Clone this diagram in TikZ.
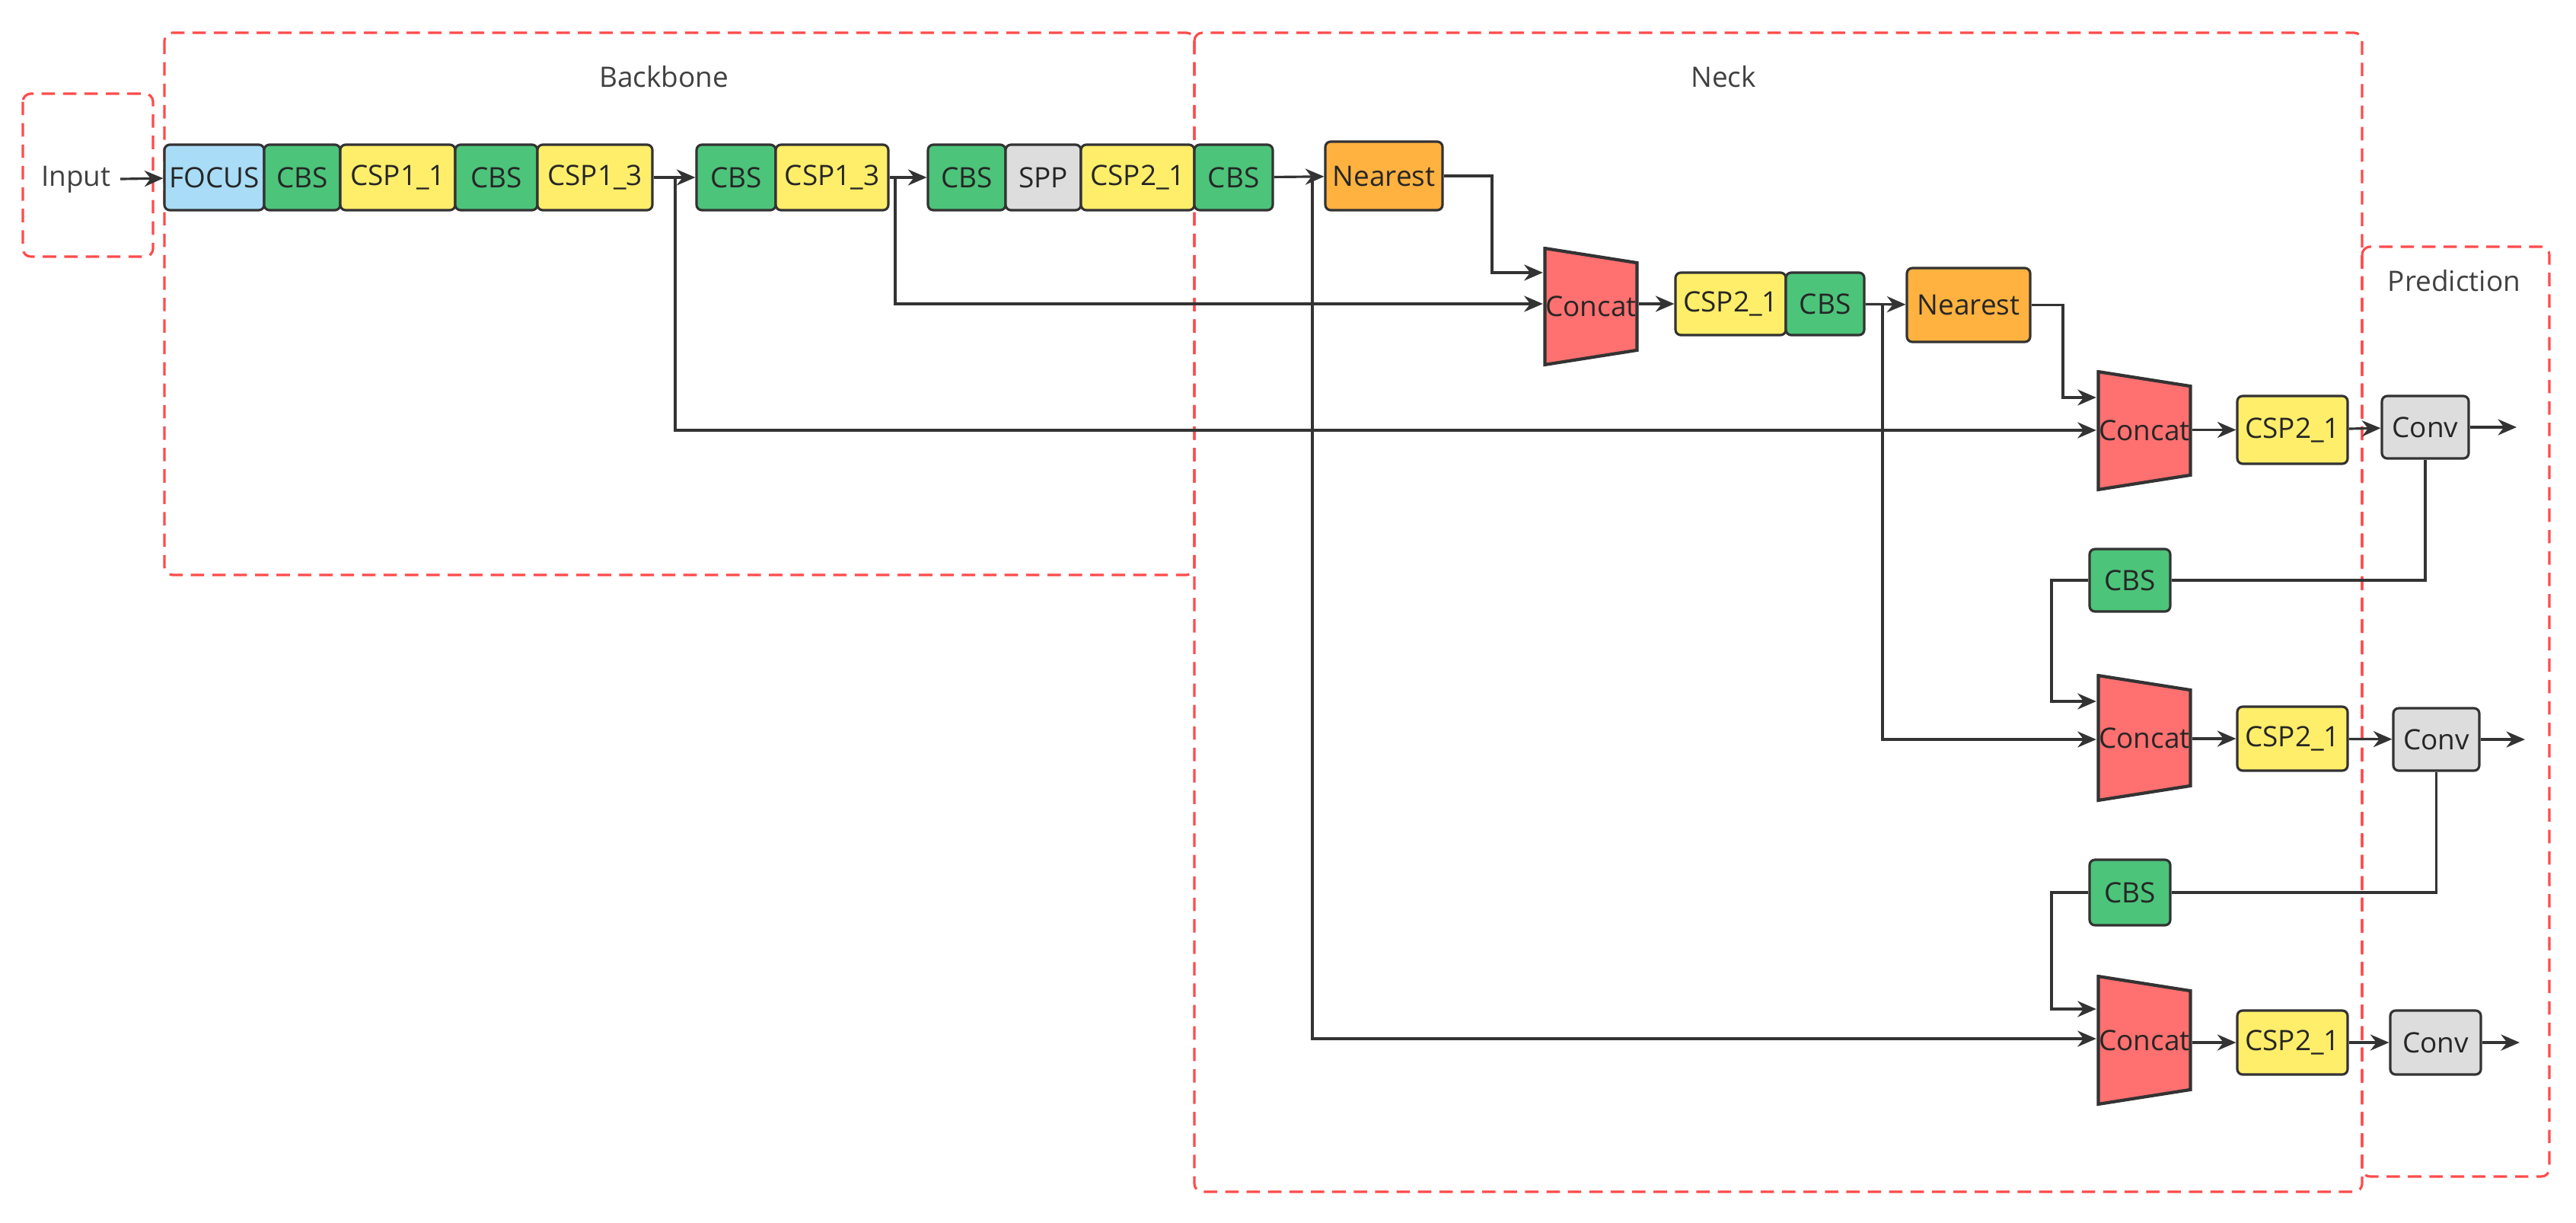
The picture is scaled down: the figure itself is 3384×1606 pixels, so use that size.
\documentclass[tikz,border=0pt]{standalone}
\usepackage{fontspec}
\setmainfont{Open Sans}
\usetikzlibrary{arrows.meta}
\definecolor{cblue}{HTML}{A9DCF6}
\definecolor{cgreen}{HTML}{4CC47A}
\definecolor{cyellow}{HTML}{FFEE6A}
\definecolor{cgrey}{HTML}{DDDDDD}
\definecolor{corange}{HTML}{FFB23F}
\definecolor{cred}{HTML}{FF7070}
\definecolor{cdash}{HTML}{FF4B4B}
\definecolor{cline}{HTML}{333333}
\tikzset{
 blk/.style={draw=cline,line width=0.9pt,rounded corners=2pt,inner sep=0pt,font=\fontsize{10.5}{12}\selectfont,text=black!85},
 group/.style={draw=cdash,dashed,line width=0.9pt,dash pattern=on 5pt off 3pt,rounded corners=3pt},
 lbl/.style={font=\fontsize{10.5}{12}\selectfont,text=black!75},
 con/.style={draw=cline,line width=0.9pt},
 arr/.style={con,-{Stealth[length=7pt,width=6pt]}},
 concat/.style={inner sep=0pt,font=\fontsize{10.5}{12}\selectfont,text=black!85,
  path picture={\filldraw[fill=cred,draw=cline,line width=1.2pt]
   ([xshift=0.6pt,yshift=-0.6pt]path picture bounding box.north west) --
   ([xshift=-0.6pt,yshift=-6pt]path picture bounding box.north east) --
   ([xshift=-0.6pt,yshift=6pt]path picture bounding box.south east) --
   ([xshift=0.6pt,yshift=0.6pt]path picture bounding box.south west) -- cycle;}},
}
\newcommand\bx[7]{\node[blk,fill=#6,minimum width={(#4-#2)*0.01cm},minimum height={(#5-#3)*0.01cm}] (#1) at ({(#2+#4)/2},{(#3+#5)/2}) {#7};}
\newcommand\cc[4]{\node[concat,minimum width={1.25cm},minimum height={(#4-#3)*0.01cm}] (#1) at (#2,{(#3+#4)/2}) {Concat};}
\begin{document}
\begin{tikzpicture}[x=0.01cm,y=-0.01cm]
\useasboundingbox (0,0) rectangle (3384,1606);
% groups
\draw[group] (30,123) rectangle (201,337);
\draw[group] (216,43) rectangle (1569,755);
\draw[group] (1569,43) rectangle (3103,1565);
\draw[group] (3103,324) rectangle (3349,1545);
\node[lbl] (tbb) at (872,101) {Backbone};
\node[lbl] (tnk) at (2264,101) {Neck};
\node[lbl] (tpr) at (3224,369) {Prediction};
\node[lbl] (in) at (100,236) {Input};
% row 1
\bx{focus}{216}{190}{347}{276}{cblue}{FOCUS}
\bx{cbs1}{347}{190}{447}{276}{cgreen}{CBS}
\bx{csp11}{447}{190}{598}{276}{cyellow}{CSP1\_1}
\bx{cbs2}{598}{190}{706}{276}{cgreen}{CBS}
\bx{csp13a}{706}{190}{857}{276}{cyellow}{CSP1\_3}
\bx{cbs3}{915}{190}{1019}{276}{cgreen}{CBS}
\bx{csp13b}{1019}{190}{1167}{276}{cyellow}{CSP1\_3}
\bx{cbs4}{1219}{190}{1321}{276}{cgreen}{CBS}
\bx{spp}{1321}{190}{1420}{276}{cgrey}{SPP}
\bx{csp21a}{1420}{190}{1569}{276}{cyellow}{CSP2\_1}
\bx{cbs5}{1569}{190}{1672}{276}{cgreen}{CBS}
\bx{near1}{1741}{186}{1895}{276}{corange}{Nearest}
% neck
\cc{cat1}{2090}{324}{481}
\bx{csp21b}{2201}{358}{2346}{440}{cyellow}{CSP2\_1}
\bx{cbs6}{2346}{358}{2449}{440}{cgreen}{CBS}
\bx{near2}{2505}{352}{2667}{449}{corange}{Nearest}
\cc{cat2}{2817}{486}{645}
\bx{csp21c}{2939}{520}{3084}{609}{cyellow}{CSP2\_1}
\bx{conv1}{3129}{520}{3243}{602}{cgrey}{Conv}
\bx{cbs7}{2745}{721}{2851}{803}{cgreen}{CBS}
\cc{cat3}{2817}{885}{1053}
\bx{csp21d}{2939}{928}{3084}{1012}{cyellow}{CSP2\_1}
\bx{conv2}{3144}{930}{3257}{1012}{cgrey}{Conv}
\bx{cbs8}{2745}{1129}{2851}{1215}{cgreen}{CBS}
\cc{cat4}{2817}{1280}{1452}
\bx{csp21e}{2939}{1327}{3084}{1411}{cyellow}{CSP2\_1}
\bx{conv3}{3140}{1327}{3259}{1411}{cgrey}{Conv}
\coordinate (o1) at (3306,561);
\coordinate (o2) at (3317,971);
\coordinate (o3) at (3310,1369);
% connections
\draw[arr] (in) -- (focus);
\draw[arr] (csp13a) -- (cbs3);
\draw[arr] (csp13b) -- (cbs4);
\draw[arr] (cbs5) -- (near1);
\draw[arr] (887,233) |- (cat2.west |- 0,565);
\draw[arr] (1176,233) |- (cat1.west |- 0,399);
\draw[arr] (1724,233) |- (cat4.west |- 0,1364);
\draw[arr] (near1.east) -| (1960,358) -- (cat1.west |- 0,358);
\draw[arr] (cat1.east |- csp21b) -- (csp21b);
\draw[arr] (cbs6) -- (near2);
\draw[arr] (2473,399) |- (cat3.west |- 0,971);
\draw[arr] (near2.east) -| (2710,522) -- (cat2.west |- 0,522);
\draw[arr] (cat2.east |- csp21c) -- (csp21c);
\draw[arr] (csp21c) -- (conv1);
\draw[arr] (conv1) -- (o1);
\draw[con] (conv1.south) |- (cbs7.east);
\draw[arr] (cbs7.west) -| (2695,921) -- (cat3.west |- 0,921);
\draw[arr] (cat3.east |- csp21d) -- (csp21d);
\draw[arr] (csp21d) -- (conv2);
\draw[arr] (conv2) -- (o2);
\draw[con] (conv2.south) |- (cbs8.east);
\draw[arr] (cbs8.west) -| (2695,1325) -- (cat4.west |- 0,1325);
\draw[arr] (cat4.east |- csp21e) -- (csp21e);
\draw[arr] (csp21e) -- (conv3);
\draw[arr] (conv3) -- (o3);
\end{tikzpicture}
\end{document}
